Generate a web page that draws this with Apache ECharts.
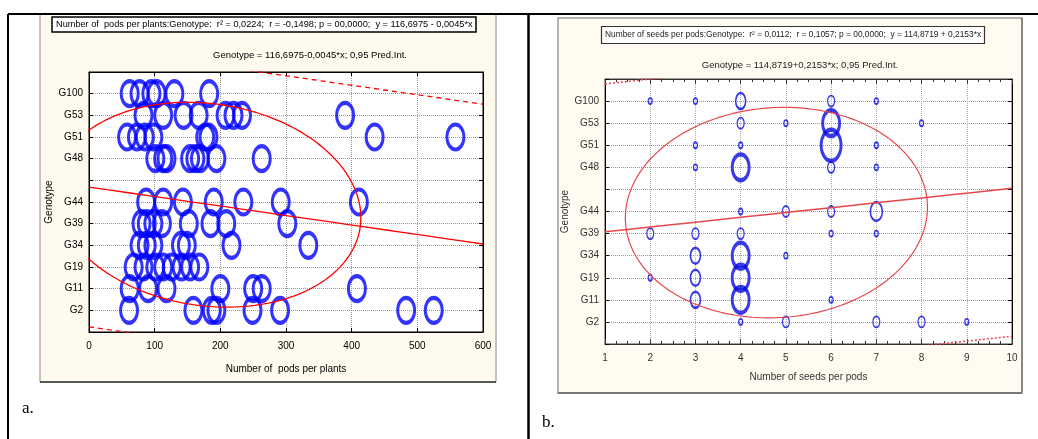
<!DOCTYPE html>
<html>
<head>
<meta charset="utf-8">
<script src="https://cdn.jsdelivr.net/npm/echarts@6/dist/echarts.min.js"></script>
<style>
  html, body { margin: 0; padding: 0; background: #fff; }
  #chart { width: 1038px; height: 439px; }
</style>
</head>
<body>
<div id="chart"></div>
<script>
// genotype rows (position on the y axis) and tick labels
var genotypes = ['G2', 'G11', 'G19', 'G34', 'G39', 'G44', 'G48', 'G51', 'G53', 'G100'];
var genotypeRow = [1, 2, 3, 4, 5, 6, 8, 9, 10, 11];
var yTickLabels = ['', 'G2', 'G11', 'G19', 'G34', 'G39', 'G44', '', 'G48', 'G51', 'G53', 'G100', ''];

// a. number of pods per plant, one list per genotype
var podsG2   = [61, 159, 187, 194, 249, 291, 483, 525];
var podsG11  = [62, 90, 118, 200, 250, 263, 408];
var podsG19  = [68, 83, 101, 113, 126, 141, 154, 168];
var podsG34  = [77, 88, 98, 140, 149, 217, 334];
var podsG39  = [80, 88, 98, 111, 152, 185, 209, 302];
var podsG44  = [87, 113, 143, 190, 235, 292, 411];
var podsG48  = [101, 113, 118, 154, 162, 169, 194, 263];
var podsG51  = [58, 73, 85, 98, 177, 182, 435, 558];
var podsG53  = [83, 113, 144, 167, 208, 220, 233, 390];
var podsG100 = [62, 77, 95, 103, 130, 183];

// b. number of seeds per pod, with how many plants share each value
var seedsG2   = [4, 5, 7, 8, 9];    var countG2   = [1, 2, 2, 2, 1];
var seedsG11  = [3, 4, 6];          var countG11  = [3, 6, 1];
var seedsG19  = [2, 3, 4];          var countG19  = [1, 3, 6];
var seedsG34  = [3, 4, 5];          var countG34  = [3, 6, 1];
var seedsG39  = [2, 3, 4, 6, 7];    var countG39  = [2, 2, 2, 1, 1];
var seedsG44  = [4, 5, 6, 7];       var countG44  = [1, 2, 2, 4];
var seedsG48  = [3, 4, 6, 7];       var countG48  = [1, 6, 2, 1];
var seedsG51  = [3, 4, 6, 7];       var countG51  = [1, 1, 7, 1];
var seedsG53  = [4, 5, 6, 8];       var countG53  = [2, 1, 6, 1];
var seedsG100 = [2, 3, 4, 6, 7];    var countG100 = [1, 1, 3, 2, 1];

// fitted line, 0.95 prediction band and ellipse (in axis units)
var fitA = { intercept: 6.69, slope: -0.00438, band: 6.45 };
var ellA = { cx: 180.5, cy: 5.875, a: 233.5, k: -0.6, b: 4.69 };
var fitB = { intercept: 4.86, slope: 0.219, band: 6.7 };
var ellB = { cx: 4.79, cy: 5.95, a: 3.34, k: 0.24, b: 4.76 };

var podsRows = [podsG2, podsG11, podsG19, podsG34, podsG39, podsG44, podsG48, podsG51, podsG53, podsG100];
var seedRows = [seedsG2, seedsG11, seedsG19, seedsG34, seedsG39, seedsG44, seedsG48, seedsG51, seedsG53, seedsG100];
var countRows = [countG2, countG11, countG19, countG34, countG39, countG44, countG48, countG51, countG53, countG100];

// bubble look per count (style only)
var bubbleStyle = {
  1: { size: [4, 6], w: 1.5 },
  2: { size: [7, 11], w: 1.5 },
  3: { size: [10, 16], w: 2 },
  4: { size: [12, 19], w: 2 },
  6: { size: [17, 26], w: 3.5 },
  7: { size: [20, 31], w: 3.5 }
};

var dataA = [];
podsRows.forEach(function (row, i) {
  row.forEach(function (x) { dataA.push([x, genotypeRow[i]]); });
});
var dataB = [];
seedRows.forEach(function (row, i) {
  row.forEach(function (x, j) {
    var st = bubbleStyle[countRows[i][j]];
    dataB.push({ value: [x, genotypeRow[i], countRows[i][j]], symbolSize: st.size,
                 itemStyle: { borderWidth: st.w } });
  });
});

function lineData(fit, off, x0, x1) {
  var pts = [];
  for (var n = 0; n <= 20; n++) {
    var x = x0 + (x1 - x0) * n / 20;
    pts.push([x, fit.intercept + fit.slope * x + off]);
  }
  return pts;
}
function ellipseData(e) {
  var pts = [];
  for (var n = 0; n <= 200; n++) {
    var t = 2 * Math.PI * n / 200;
    pts.push([e.cx + e.a * Math.cos(t), e.cy + e.k * Math.cos(t) + e.b * Math.sin(t)]);
  }
  return pts;
}

var fontA = { fontFamily: 'Liberation Sans', fontSize: 10, color: '#000' };
var fontB = { fontFamily: 'Liberation Sans', fontSize: 10, color: '#333' };

function yAx(grid, pos, font, show) {
  return {
    type: 'value', gridIndex: grid, position: pos, min: 0, max: 12, interval: 1,
    axisLine: { show: true, onZero: false, lineStyle: { color: '#000' } },
    axisTick: { show: true, inside: true, length: 4, lineStyle: { color: '#000' } },
    axisLabel: { show: show, fontFamily: font.fontFamily, fontSize: font.fontSize, color: font.color, margin: 6,
                 formatter: function (v) { return yTickLabels[v] || ''; } },
    splitLine: { show: show, lineStyle: { type: 'dotted', color: '#999' } },
    name: show ? 'Genotype' : '', nameLocation: 'middle', nameGap: grid === 0 ? 32 : 31,
    nameTextStyle: { fontFamily: font.fontFamily, fontSize: 10, color: font.color }
  };
}

var chart = echarts.init(document.getElementById('chart'));
chart.setOption({
  backgroundColor: '#fff',
  animation: false,
  title: [
    { text: 'Number of  pods per plants:Genotype:  r² = 0,0224;  r = -0,1498; p = 00,0000;  y = 116,6975 - 0,0045*x',
      left: 52, top: 17, padding: [3, 4], borderColor: '#000', borderWidth: 1.5, backgroundColor: '#fff',
      textStyle: { fontFamily: 'Liberation Sans', fontSize: 9.2, fontWeight: 'normal', color: '#000' } },
    { text: 'Genotype = 116,6975-0,0045*x; 0,95 Pred.Int.', left: 305, top: 45, textAlign: 'center',
      textStyle: { fontFamily: 'Liberation Sans', fontSize: 9.5, fontWeight: 'normal', color: '#000' } },
    { text: 'Number of seeds per pods:Genotype:  r² = 0,0112;  r = 0,1057; p = 00,0000;  y = 114,8719 + 0,2153*x',
      left: 601, top: 26, padding: [5, 4], borderColor: '#333', borderWidth: 1.2, backgroundColor: '#fff',
      textStyle: { fontFamily: 'Liberation Sans', fontSize: 8.4, fontWeight: 'normal', color: '#222' } },
    { text: 'Genotype = 114,8719+0,2153*x; 0,95 Pred.Int.', left: 795, top: 55, textAlign: 'center',
      textStyle: { fontFamily: 'Liberation Sans', fontSize: 9.5, fontWeight: 'normal', color: '#222' } }
  ],
  graphic: [
    { type: 'rect', z: -10, shape: { x: 40, y: 14, width: 456, height: 368 },
      style: { fill: '#fffaee', stroke: '#888', lineWidth: 1 } },
    { type: 'line', z: -9, shape: { x1: 40, y1: 382, x2: 496, y2: 382 }, style: { stroke: '#333', lineWidth: 1.5 } },
    { type: 'rect', z: -10, shape: { x: 558, y: 18, width: 464, height: 375 },
      style: { fill: '#fffbf0', stroke: '#999', lineWidth: 1.5 } },
    { type: 'line', z: -9, shape: { x1: 558, y1: 393, x2: 1022, y2: 393 }, style: { stroke: '#777', lineWidth: 2 } },
    { type: 'line', z: -9, shape: { x1: 1022, y1: 18, x2: 1022, y2: 393 }, style: { stroke: '#888', lineWidth: 2 } },
    { type: 'line', z: 5, shape: { x1: 8, y1: 14, x2: 1038, y2: 14 }, style: { stroke: '#000', lineWidth: 2 } },
    { type: 'line', z: 5, shape: { x1: 8, y1: 14, x2: 8, y2: 439 }, style: { stroke: '#000', lineWidth: 2 } },
    { type: 'line', z: 5, shape: { x1: 528.5, y1: 14, x2: 528.5, y2: 439 }, style: { stroke: '#000', lineWidth: 2.5 } },
    { type: 'text', left: 22, top: 400, style: { text: 'a.', font: '17px "Liberation Serif"', fill: '#000' } },
    { type: 'text', left: 542, top: 414, style: { text: 'b.', font: '17px "Liberation Serif"', fill: '#000' } }
  ],
  grid: [
    { left: 89, top: 72, width: 394, height: 260, show: true, backgroundColor: '#fff', borderColor: '#000', borderWidth: 1 },
    { left: 605, top: 79, width: 407, height: 265, show: true, backgroundColor: '#fff', borderColor: '#444', borderWidth: 1 }
  ],
  xAxis: [
    { type: 'value', gridIndex: 0, min: 0, max: 600, interval: 100,
      axisLine: { onZero: false, lineStyle: { color: '#000' } },
      axisTick: { inside: true, length: 4, lineStyle: { color: '#000' } },
      axisLabel: { fontFamily: 'Liberation Sans', fontSize: 10, color: '#000', margin: 9 },
      splitLine: { lineStyle: { type: 'dotted', color: '#999' } },
      name: 'Number of  pods per plants', nameLocation: 'middle', nameGap: 32,
      nameTextStyle: { fontFamily: 'Liberation Sans', fontSize: 10, color: '#000' } },
    { type: 'value', gridIndex: 0, position: 'top', min: 0, max: 600, interval: 100,
      axisLine: { onZero: false, lineStyle: { color: '#000' } },
      axisTick: { inside: true, length: 4, lineStyle: { color: '#000' } },
      axisLabel: { show: false }, splitLine: { show: false } },
    { type: 'value', gridIndex: 1, min: 1, max: 10, interval: 1,
      axisLine: { onZero: false, lineStyle: { color: '#333' } },
      axisTick: { inside: true, length: 5, lineStyle: { color: '#333' } },
      minorTick: { show: true, splitNumber: 4, length: 3, lineStyle: { color: '#333' } },
      axisLabel: { fontFamily: 'Liberation Sans', fontSize: 10, color: '#333', margin: 9 },
      splitLine: { lineStyle: { type: 'dotted', color: '#aaa' } },
      name: 'Number of seeds per pods', nameLocation: 'middle', nameGap: 28,
      nameTextStyle: { fontFamily: 'Liberation Sans', fontSize: 10, color: '#333' } },
    { type: 'value', gridIndex: 1, position: 'top', min: 1, max: 10, interval: 1,
      axisLine: { onZero: false, lineStyle: { color: '#333' } },
      axisTick: { inside: true, length: 5, lineStyle: { color: '#333' } },
      minorTick: { show: true, splitNumber: 4, length: 3, lineStyle: { color: '#333' } },
      axisLabel: { show: false }, splitLine: { show: false } }
  ],
  yAxis: [
    yAx(0, 'left', fontA, true),
    yAx(0, 'right', fontA, false),
    yAx(1, 'left', fontB, true),
    yAx(1, 'right', fontB, false)
  ],
  series: [
    { type: 'scatter', xAxisIndex: 0, yAxisIndex: 0, data: dataA, symbol: 'circle', symbolSize: [17, 25],
      itemStyle: { color: 'rgba(0,0,0,0)', borderColor: '#0000ff', borderWidth: 3.5 }, z: 3 },
    { type: 'line', xAxisIndex: 0, yAxisIndex: 0, data: lineData(fitA, 0, 0, 600), showSymbol: false,
      lineStyle: { color: '#ff0000', width: 1.3 }, z: 4 },
    { type: 'line', xAxisIndex: 0, yAxisIndex: 0, data: lineData(fitA, fitA.band, 0, 600), showSymbol: false,
      lineStyle: { color: '#ff0000', width: 1.3, type: [5, 4] }, z: 4 },
    { type: 'line', xAxisIndex: 0, yAxisIndex: 0, data: lineData(fitA, -fitA.band, 0, 600), showSymbol: false,
      lineStyle: { color: '#ff0000', width: 1.3, type: [5, 4] }, z: 4 },
    { type: 'line', xAxisIndex: 0, yAxisIndex: 0, data: ellipseData(ellA), showSymbol: false,
      lineStyle: { color: '#ff0000', width: 1.3 }, z: 4 },

    { type: 'scatter', xAxisIndex: 2, yAxisIndex: 2, data: dataB, symbol: 'circle',
      itemStyle: { color: 'rgba(0,0,0,0)', borderColor: '#0a0ae0' }, z: 3 },
    { type: 'line', xAxisIndex: 2, yAxisIndex: 2, data: lineData(fitB, 0, 1, 10), showSymbol: false,
      lineStyle: { color: '#e8474a', width: 1.5 }, z: 4 },
    { type: 'line', xAxisIndex: 2, yAxisIndex: 2, data: lineData(fitB, fitB.band, 1, 10), showSymbol: false,
      lineStyle: { color: '#e8474a', width: 1.5, type: [2, 2] }, z: 4 },
    { type: 'line', xAxisIndex: 2, yAxisIndex: 2, data: lineData(fitB, -fitB.band, 1, 10), showSymbol: false,
      lineStyle: { color: '#e8474a', width: 1.5, type: [2, 2] }, z: 4 },
    { type: 'line', xAxisIndex: 2, yAxisIndex: 2, data: ellipseData(ellB), showSymbol: false,
      lineStyle: { color: '#e8474a', width: 1.2 }, z: 4 }
  ]
});
</script>
</body>
</html>
